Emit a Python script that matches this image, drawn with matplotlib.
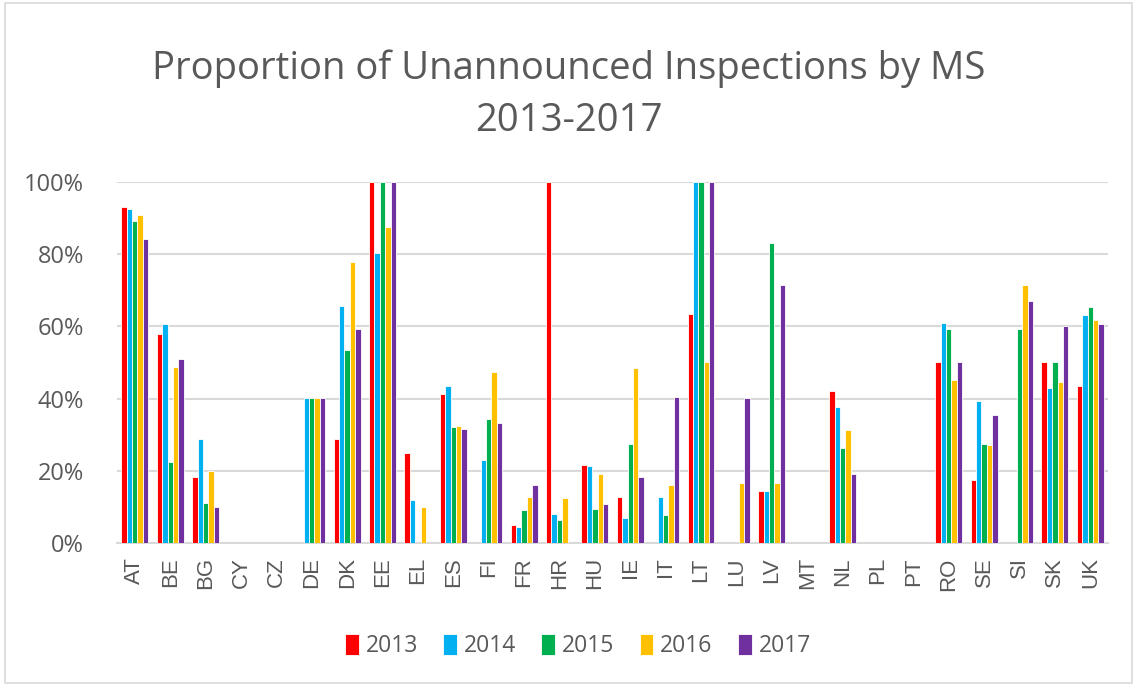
import matplotlib
matplotlib.use('Agg')
import matplotlib.pyplot as plt
import numpy as np
from matplotlib.patches import Rectangle
from matplotlib.ticker import PercentFormatter

plt.rcParams["font.family"] = ["Open Sans", "DejaVu Sans"]

# proportion of unannounced inspections, by member state and year (%), nan = no bar
countries = ['AT', 'BE', 'BG', 'CY', 'CZ', 'DE', 'DK', 'EE', 'EL', 'ES', 'FI', 'FR', 'HR', 'HU',
             'IE', 'IT', 'LT', 'LU', 'LV', 'MT', 'NL', 'PL', 'PT', 'RO', 'SE', 'SI', 'SK', 'UK']
nan = np.nan
y2013 = [92.9, 57.8, 18.3, nan, nan, nan, 28.8, 100, 25.0, 41.3, nan, 5.2, 100, 21.6,
         12.8, nan, 63.5, nan, 14.5, nan, 42.2, nan, nan, 50.1, 17.4, nan, 50.1, 43.4]
y2014 = [92.4, 60.6, 28.8, nan, nan, 40.1, 65.6, 80.4, 12.0, 43.4, 23.0, 4.4, 8.2, 21.3,
         6.9, 12.8, 100, nan, 14.5, nan, 37.6, nan, nan, 61.0, 39.3, nan, 43.0, 63.1]
y2015 = [89.1, 22.4, 11.2, nan, nan, 40.1, 53.5, 100, nan, 32.1, 34.3, 9.1, 6.5, 9.5,
         27.5, 7.7, 100, nan, 83.2, nan, 26.3, nan, nan, 59.4, 27.5, 59.4, 50.1, 65.3]
y2016 = [90.8, 48.8, 19.9, nan, nan, 40.1, 77.8, 87.4, 10.0, 32.5, 47.3, 12.8, 12.4, 19.2,
         48.5, 16.2, 50.1, 16.6, 16.6, nan, 31.3, nan, nan, 45.1, 27.1, 71.5, 44.7, 61.8]
y2017 = [84.1, 51.0, 10.0, nan, nan, 40.1, 59.4, 100, nan, 31.7, 33.4, 16.2, nan, 10.8,
         18.3, 40.5, 100, 40.1, 71.5, nan, 19.2, nan, nan, 50.1, 35.4, 66.9, 60.2, 60.6]
years = ['2013', '2014', '2015', '2016', '2017']

series = [y2013, y2014, y2015, y2016, y2017]
colors = ['#FF0000', '#00B0F0', '#00B050', '#FFC000', '#7030A0']
grey = '#595959'

fig = plt.figure(figsize=(11.37, 6.86), dpi=100)
ax = fig.add_axes([0.103, 0.208, 0.8715, 0.527])

x = np.arange(len(countries))
w = 0.152
for i, (vals, c) in enumerate(zip(series, colors)):
    ax.bar(x + (i - 2) * w, np.array(vals) / 100, w, color=c, edgecolor='white',
           linewidth=0.6, label=years[i], zorder=3)

ax.set_xlim(-0.5, len(countries) - 0.5)
ax.set_ylim(0, 1)
ax.set_yticks(np.arange(0, 1.01, 0.2))
ax.yaxis.set_major_formatter(PercentFormatter(1.0, decimals=0))
ax.grid(axis='y', color='#D9D9D9', linewidth=1.5, zorder=0)
for s in ['top', 'right', 'left']:
    ax.spines[s].set_visible(False)
ax.spines['bottom'].set_color('#D9D9D9')
ax.spines['bottom'].set_linewidth(1.5)
ax.set_xticks(x)
ax.set_xticklabels(countries, rotation=90, fontsize=16, color=grey,
                   family=['Liberation Sans', 'DejaVu Sans'])
ax.tick_params(axis='x', length=0, pad=10)
ax.tick_params(axis='y', length=0, pad=24, labelsize=17, labelcolor=grey)

fig.text(0.5, 0.9, 'Proportion of Unannounced Inspections by MS', ha='center', va='center',
         fontsize=27.5, color=grey)
fig.text(0.5, 0.824, '2013-2017', ha='center', va='center', fontsize=27.5, color=grey)

ax.legend(loc='center', bbox_to_anchor=(0.465, -0.285), ncol=5, frameon=False, fontsize=16.5,
          handlelength=0.6, handleheight=1.0, handletextpad=0.3, columnspacing=1.1,
          labelcolor=grey)

fig.patches.append(Rectangle((0.004, 0.004), 0.992, 0.992, transform=fig.transFigure,
                             fill=False, edgecolor='#D9D9D9', linewidth=1.2))

fig.savefig('out.png', dpi=100)
